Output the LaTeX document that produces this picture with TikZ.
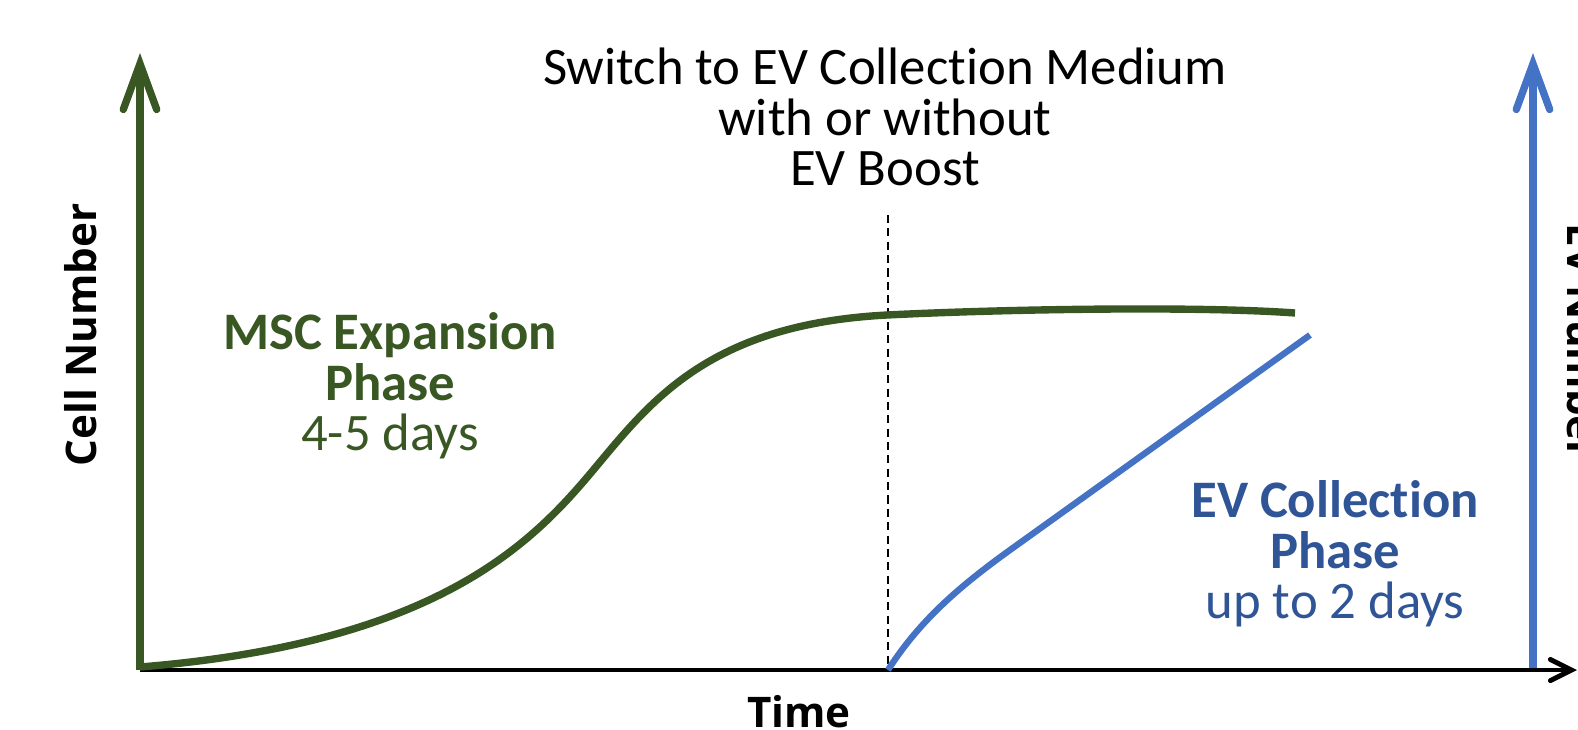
\documentclass[tikz,border=0pt]{standalone}
\usepackage{fontspec}
\setmainfont{Carlito}[Ligatures=NoCommon]
\newfontfamily\axisfont{Open Sans}
\usepackage{xcolor}
\definecolor{MscGreen}{HTML}{385723}
\definecolor{EvBlue}{HTML}{4472C4}
\definecolor{EvText}{HTML}{2F5597}
\usetikzlibrary{arrows.meta}

\begin{document}
\begin{tikzpicture}[
    font=\fontsize{15}{14.4}\selectfont,
    cell_axis/.style={MscGreen, line width=2.1pt, -{Straight Barb[length=13pt, width=9.5pt, line cap=round]}},
    ev_axis/.style={EvBlue, line width=2.1pt, -{Straight Barb[length=13pt, width=9.5pt, line cap=round]}},
    time_axis/.style={black, line width=1.4pt, -{Straight Barb[length=6pt, width=6pt, line cap=round]}},
    cell_curve/.style={MscGreen, line width=2.1pt},
    ev_curve/.style={EvBlue, line width=1.8pt},
    switch_line/.style={black, line width=0.5pt, dash pattern=on 2.3pt off 1.5pt},
    axis_label/.style={font=\axisfont\bfseries\fontsize{12}{14}\selectfont, anchor=base},
    phase_label/.style={align=center}
]
    \useasboundingbox (-1.40,-0.59) rectangle (14.38,6.70);

    % 1. AXES
    \coordinate (O) at (0,0);
    \coordinate (cell_top) at (0,6.17);
    \coordinate (ev_base) at (13.93,0);
    \coordinate (ev_top) at (13.93,6.17);
    \coordinate (time_end) at (14.37,0);
    \draw[cell_axis] (O) -- (cell_top);
    \draw[ev_axis] (ev_base) -- (ev_top);
    \draw[time_axis] (O) -- (time_end);

    % 2. SWITCH OF MEDIUM
    \coordinate (switch_top) at (7.48,4.55);
    \coordinate (switch_bot) at (7.48,0);
    \draw[switch_line] (switch_top) -- (switch_bot);

    % 3. CELL NUMBER (sigmoid growth)
    \draw[cell_curve] (0,0.03) .. controls (3.1,0.28) and (4.0,1.36) .. (4.6,2.08)
        .. controls (5.15,2.74) and (5.75,3.46) .. (7.47,3.55)
        .. controls (8.67,3.61) and (10.6,3.64) .. (11.55,3.57);

    % 4. EV NUMBER
    \draw[ev_curve] (switch_bot) .. controls (7.8,0.5) and (8.2,0.84) .. (8.7,1.2) -- (11.7,3.35);

    % 5. LABELS
    \node[align=center] (switch) at (7.45,5.53)
        {Switch to EV Collection Medium\\with or without\\EV Boost};
    \node[phase_label, text=MscGreen] (msc) at (2.50,2.84)
        {\textbf{MSC Expansion}\\\textbf{Phase}\\4-5 days};
    \node[phase_label, text=EvText] (evc) at (11.95,1.16)
        {\textbf{EV Collection}\\\textbf{Phase}\\up to 2 days};
    \node[axis_label, rotate=90] (cell_label) at (-0.43,3.35) {Cell Number};
    \node[axis_label] (time_label) at (6.59,-0.57) {Time};
    \node[axis_label, rotate=-90] (ev_label) at (14.27,3.28) {EV Number};

\end{tikzpicture}
\end{document}
